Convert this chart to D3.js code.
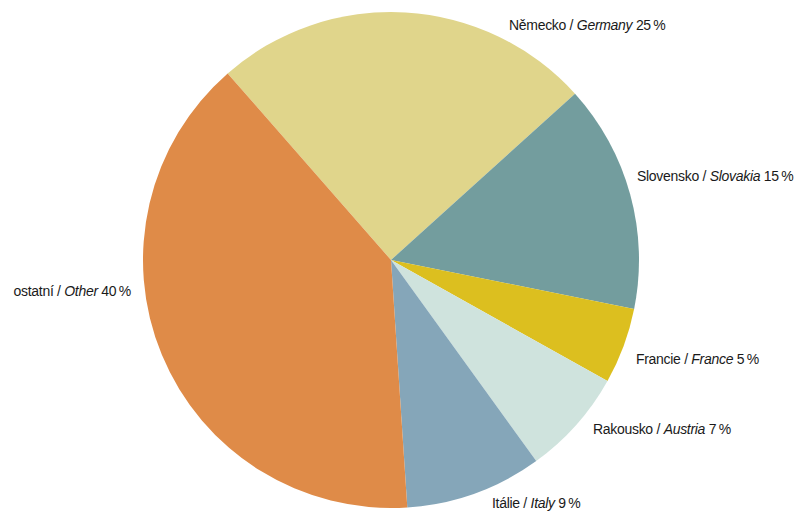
<!DOCTYPE html>
<html>
<head>
<meta charset="utf-8">
<script src="https://cdn.jsdelivr.net/npm/d3@7"></script>
<style>
  html, body { margin: 0; padding: 0; background: #ffffff; }
  svg { display: block; }
  text { font-family: "Liberation Sans", Arial, sans-serif; font-size: 14px; letter-spacing: -0.3px; fill: #1a1a1a; }
</style>
</head>
<body>
<svg id="chart" width="796" height="515"></svg>
<script>
// Country shares (%), drawn clockwise from the top-left boundary
const countriesCz = ["Německo", "Slovensko", "Francie", "Rakousko", "Itálie", "ostatní"];
const countriesEn = ["Germany", "Slovakia", "France", "Austria", "Italy", "Other"];
const shares = [25, 15, 5, 7, 9, 40];
const colors = ["#e0d58b", "#739d9e", "#dcbf1f", "#cfe3dd", "#85a6b9", "#df8b48"];

// Label layout: offset from the pie centre (px) and text anchor
const labelLayout = [
  { dx: 118, dy: -230, anchor: "start" },
  { dx: 246, dy: -79, anchor: "start" },
  { dx: 245, dy: 104, anchor: "start" },
  { dx: 202, dy: 174, anchor: "start" },
  { dx: 101, dy: 248, anchor: "start" },
  { dx: -260, dy: 36, anchor: "end" }
];

const cx = 391, cy = 260, radius = 248;
const startDeg = -41.2;

const svg = d3.select("#chart");
const g = svg.append("g").attr("transform", `translate(${cx},${cy})`);

const data = shares.map((v, i) => ({ cz: countriesCz[i], en: countriesEn[i], value: v, color: colors[i], i }));

const pie = d3.pie()
  .value(d => d.value)
  .sort(null)
  .startAngle(startDeg * Math.PI / 180)
  .endAngle(startDeg * Math.PI / 180 + 2 * Math.PI);

const arc = d3.arc().innerRadius(0).outerRadius(radius);

g.selectAll("path.slice")
  .data(pie(data))
  .join("path")
  .attr("class", "slice")
  .attr("d", arc)
  .attr("fill", d => d.data.color);

const labels = g.selectAll("text.label")
  .data(data)
  .join("text")
  .attr("class", "label")
  .attr("x", d => labelLayout[d.i].dx)
  .attr("y", d => labelLayout[d.i].dy)
  .attr("text-anchor", d => labelLayout[d.i].anchor);

labels.append("tspan").text(d => d.cz + " / ");
labels.append("tspan").attr("font-style", "italic").text(d => d.en);
labels.append("tspan").text(d => " " + d.value + "\u2009%");
</script>
</body>
</html>
